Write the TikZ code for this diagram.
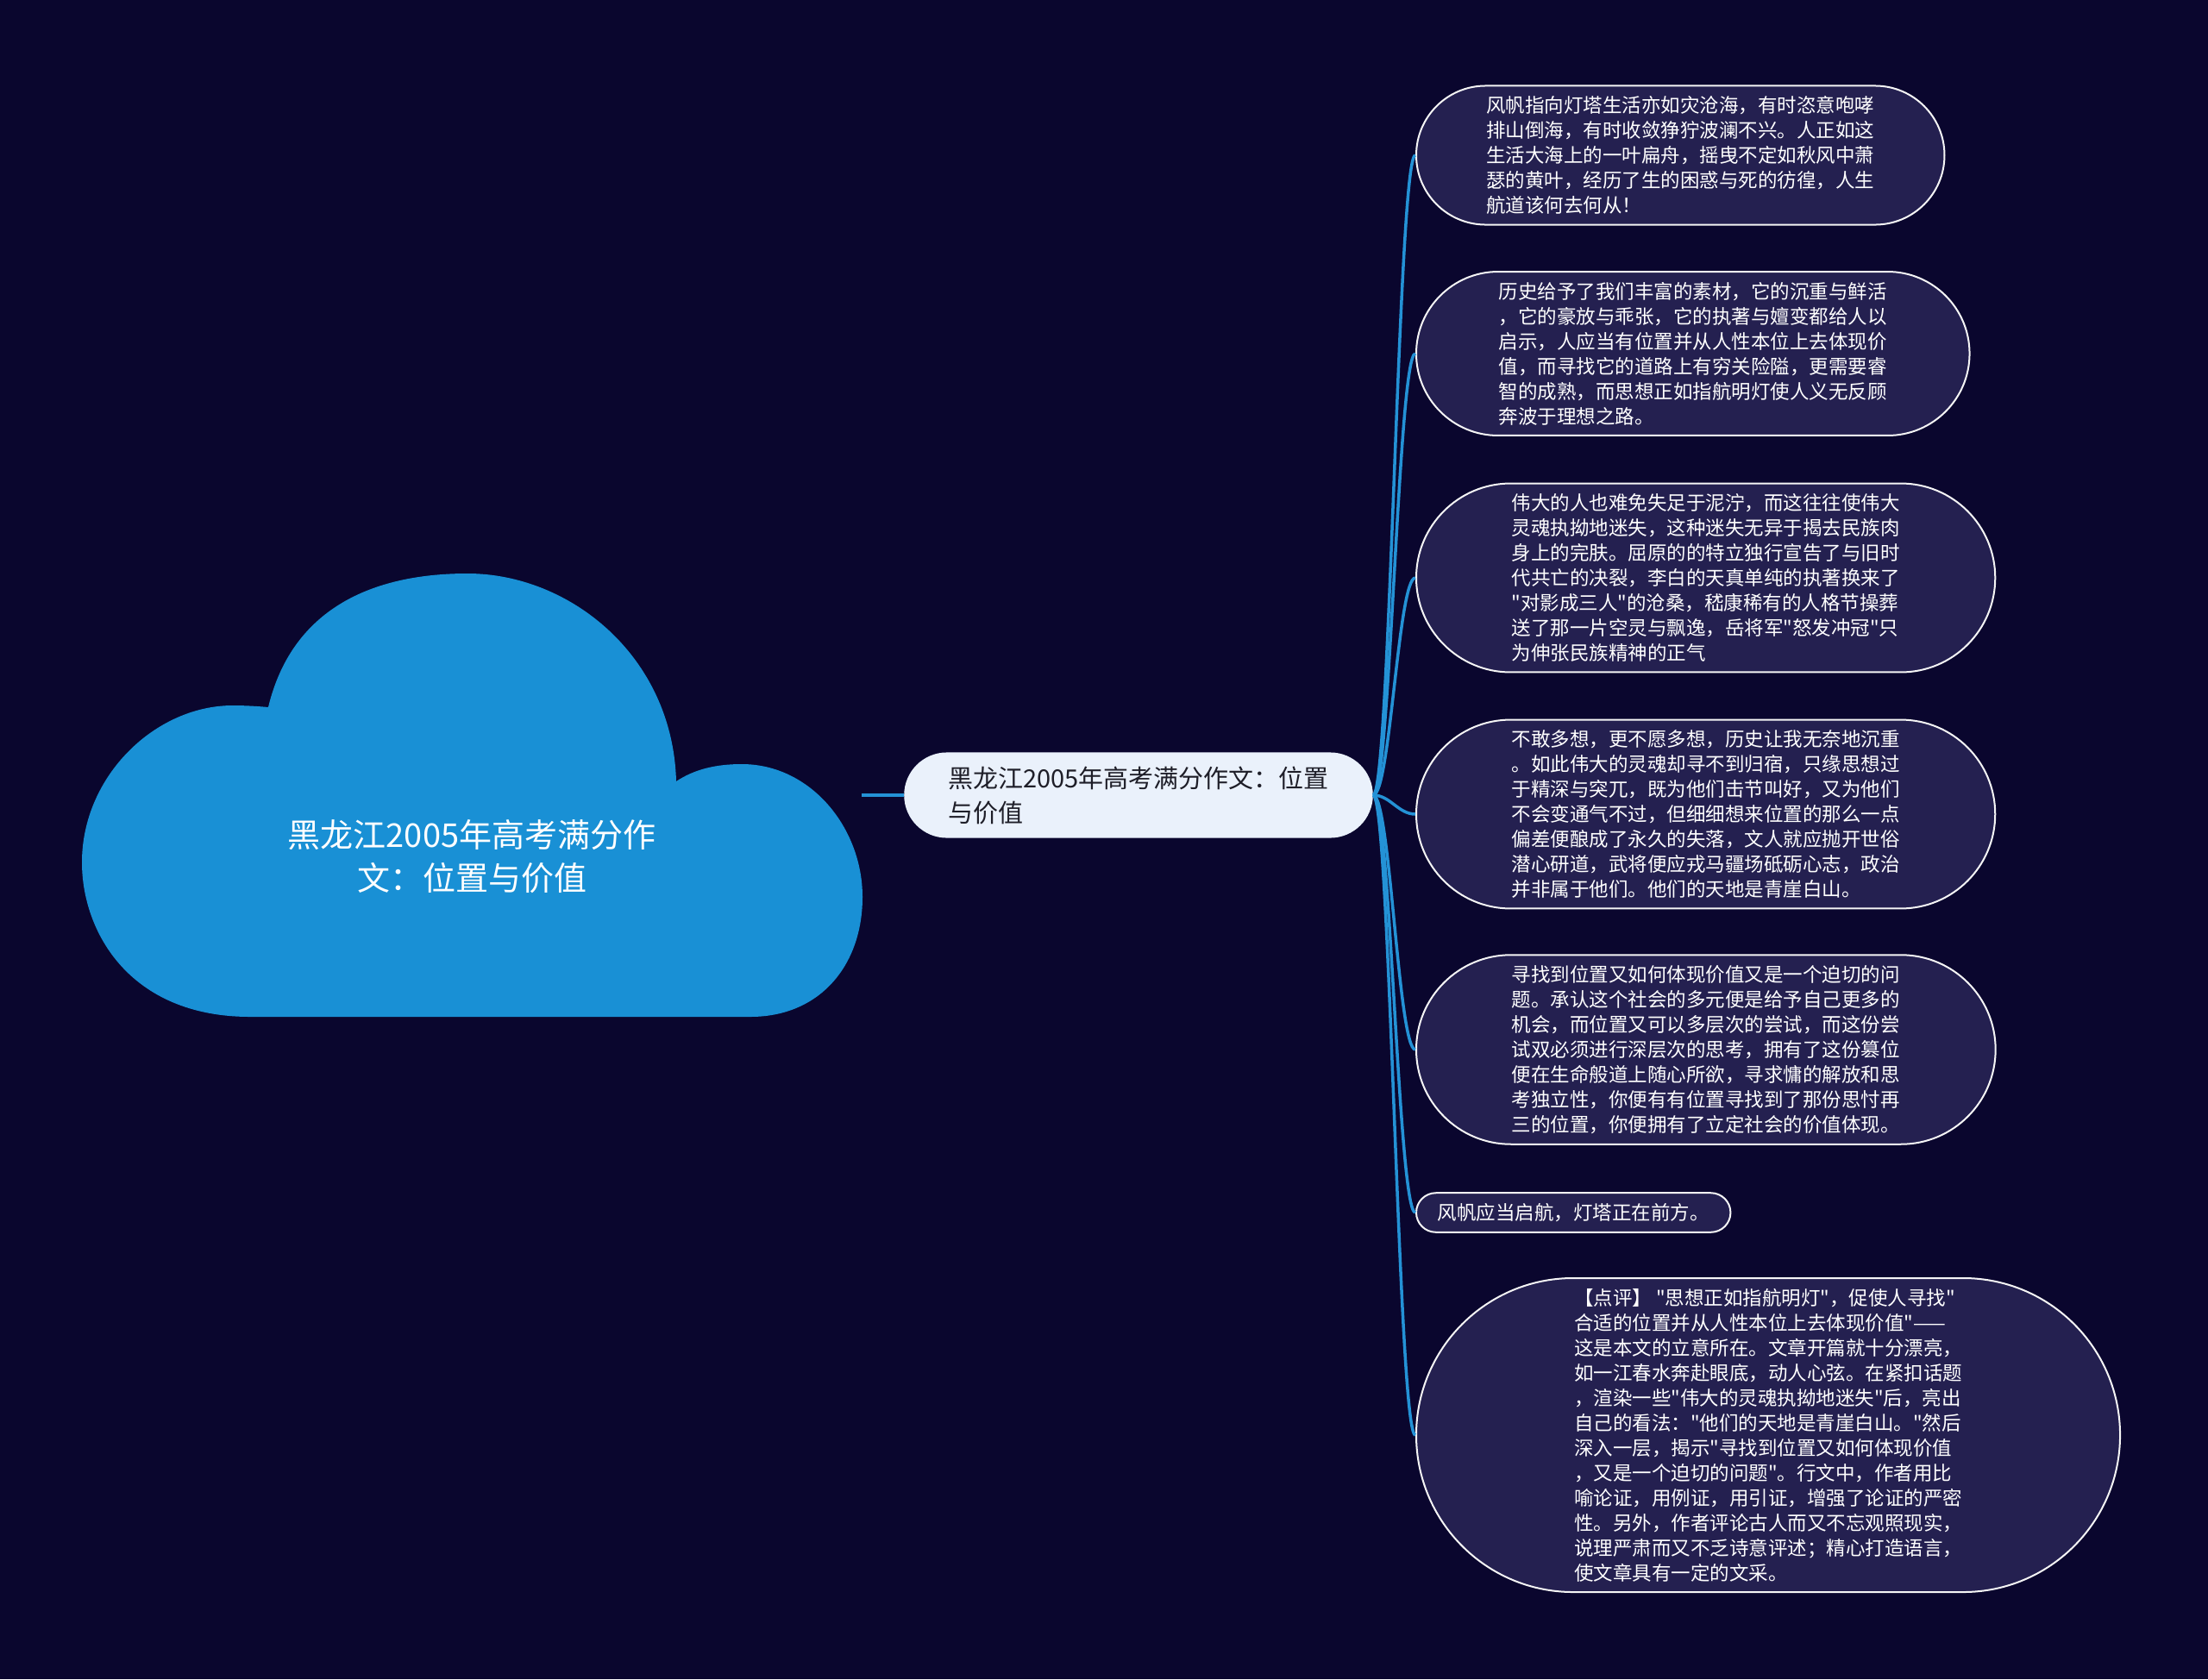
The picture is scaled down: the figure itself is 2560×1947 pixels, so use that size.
\documentclass[tikz,border=0pt]{standalone}
\usepackage{fontspec}
\setmainfont{Noto Sans CJK SC}
\newfontfamily\cjkplain{Noto Sans CJK SC}
\usepackage{xcolor}
\usetikzlibrary{shapes.misc}

\definecolor{bgnavy}{RGB}{10,6,46}
\definecolor{cloudblue}{RGB}{25,144,213}
\definecolor{linkblue}{RGB}{36,146,214}
\definecolor{leaffill}{RGB}{36,32,80}
\definecolor{topicfill}{RGB}{234,241,251}
\definecolor{topictext}{RGB}{30,30,40}

\tikzset{
  leaf/.style={rounded rectangle, draw=white!92!gray, line width=2pt, fill=leaffill,
    text=white, align=left, inner xsep=#1, inner ysep=12pt, anchor=west,
    font=\cjkplain\fontsize{22.5}{29}\selectfont},
  leaf/.default=51pt,
  topic/.style={rounded rectangle, fill=topicfill, text=topictext, align=left,
    inner xsep=38pt, inner ysep=16pt, font=\cjkplain\fontsize{29}{40}\selectfont},
  link/.style={draw=linkblue, line width=3.5pt}
}

\begin{document}
\begin{tikzpicture}[x=1pt,y=-1pt]
      \fill[bgnavy] (0,0) rectangle (2560,1947);
      \useasboundingbox (0,0) rectangle (2560,1947);

      \fill[cloudblue] (311,820) .. controls (340,700) and (440,665) .. (542,665)
        .. controls (660,665) and (780,760) .. (784,906)
        .. controls (805,892) and (830,886) .. (860,886)
        .. controls (940,886) and (1000,960) .. (1000,1040)
        .. controls (1000,1120) and (950,1179) .. (870,1179)
        -- (290,1179)
        .. controls (150,1179) and (95,1080) .. (95,1000)
        .. controls (95,900) and (180,818) .. (270,818)
        .. controls (285,818) and (300,819) .. (311,820) -- cycle;
      \node (cloud) at (547,993) [text=white, align=center, font=\cjkplain\fontsize{38}{50}\selectfont]
        {黑龙江2005年高考满分作\\文：位置与价值};
      \coordinate (cloudtip) at (999,922);

      \node (topic) at (1320,922) [topic] {黑龙江2005年高考满分作文：位置\\与价值};
      \draw [link, line width=4.5pt] (cloudtip) -- (topic.west);

      \begin{scope}
        \node (leaf1) at (1641,180) [leaf=43pt] {风帆指向灯塔生活亦如灾沧海，有时恣意咆哮\\排山倒海，有时收敛狰狞波澜不兴。人正如这\\生活大海上的一叶扁舟，摇曳不定如秋风中萧\\瑟的黄叶，经历了生的困惑与死的彷徨，人生\\航道该何去何从！};
        \node (leaf2) at (1641,410) [leaf=47pt] {历史给予了我们丰富的素材，它的沉重与鲜活\\，它的豪放与乖张，它的执著与嬗变都给人以\\启示，人应当有位置并从人性本位上去体现价\\值，而寻找它的道路上有穷关险隘，更需要睿\\智的成熟，而思想正如指航明灯使人义无反顾\\奔波于理想之路。};
        \node (leaf3) at (1641,670) [leaf] {伟大的人也难免失足于泥泞，而这往往使伟大\\灵魂执拗地迷失，这种迷失无异于揭去民族肉\\身上的完肤。屈原的的特立独行宣告了与旧时\\代共亡的决裂，李白的天真单纯的执著换来了\\"对影成三人"的沧桑，嵇康稀有的人格节操葬\\送了那一片空灵与飘逸，岳将军"怒发冲冠"只\\为伸张民族精神的正气};
        \node (leaf4) at (1641,944) [leaf] {不敢多想，更不愿多想，历史让我无奈地沉重\\。如此伟大的灵魂却寻不到归宿，只缘思想过\\于精深与突兀，既为他们击节叫好，又为他们\\不会变通气不过，但细细想来位置的那么一点\\偏差便酿成了永久的失落，文人就应抛开世俗\\潜心研道，武将便应戎马疆场砥砺心志，政治\\并非属于他们。他们的天地是青崖白山。};
        \node (leaf5) at (1641,1217) [leaf] {寻找到位置又如何体现价值又是一个迫切的问\\题。承认这个社会的多元便是给予自己更多的\\机会，而位置又可以多层次的尝试，而这份尝\\试双必须进行深层次的思考，拥有了这份篡位\\便在生命般道上随心所欲，寻求慵的解放和思\\考独立性，你便有有位置寻找到了那份思忖再\\三的位置，你便拥有了立定社会的价值体现。};
        \node (leaf6) at (1641,1406) [leaf=22pt] {风帆应当启航，灯塔正在前方。};
        \node (leaf7) at (1641,1664) [leaf=66pt] {【点评】 "思想正如指航明灯"，促使人寻找"\\合适的位置并从人性本位上去体现价值"——\\这是本文的立意所在。文章开篇就十分漂亮，\\如一江春水奔赴眼底，动人心弦。在紧扣话题\\，渲染一些"伟大的灵魂执拗地迷失"后，亮出\\自己的看法："他们的天地是青崖白山。"然后\\深入一层，揭示"寻找到位置又如何体现价值\\，又是一个迫切的问题"。行文中，作者用比\\喻论证，用例证，用引证，增强了论证的严密\\性。另外，作者评论古人而又不忘观照现实，\\说理严肃而又不乏诗意评述；精心打造语言，\\使文章具有一定的文采。};

        \foreach \n in {1,...,7}{
          \draw [link] (topic.east) .. controls +(20,0) and +(-20,0) .. (leaf\n.west);
        }
      \end{scope}
    \end{tikzpicture}
\end{document}
